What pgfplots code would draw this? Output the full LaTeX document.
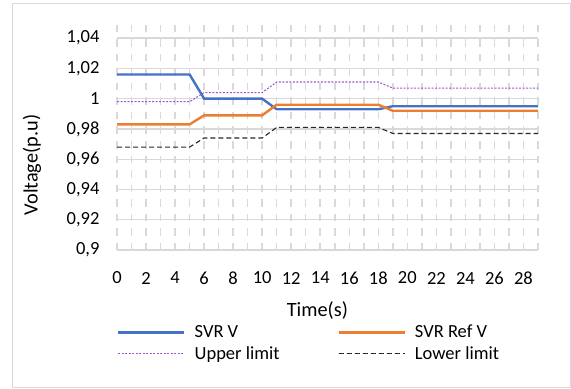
\documentclass[border=0pt]{standalone}
\usepackage{pgfplots}
\pgfplotsset{compat=1.18}
\usepackage{fontspec}
\setmainfont{Carlito}
\definecolor{svrblue}{HTML}{4472C4}
\definecolor{svrorange}{HTML}{ED7D31}
\definecolor{uppurple}{HTML}{9B59D0}
\definecolor{gridgray}{HTML}{D9D9D9}
\newcommand{\cf}{\fontsize{18.5bp}{22bp}\selectfont}
\newcommand{\tf}{\fontsize{20.3bp}{24bp}\selectfont}
\begin{document}
\begin{tikzpicture}[x=1bp,y=1bp]
\path (0,0) rectangle (571,388);
\draw[gridgray,line width=1bp] (12,1) rectangle (570,384);
\begin{axis}[
  at={(117bp,138bp)}, anchor=south west,
  scale only axis, width=421bp, height=227bp,
  xmin=0, xmax=29, ymin=0.9, ymax=1.05,
  xtick={0,2,...,28}, minor xtick={1,3,...,29},
  ytick={0.9,0.92,0.94,0.96,0.98,1,1.02,1.04},
  yticklabels={{0,9},{0,92},{0,94},{0,96},{0,98},{1},{1,02},{1,04}},
  /pgf/number format/assume math mode=true,
  xmajorgrids, xminorgrids, ymajorgrids,
  x grid style={gridgray, line width=1.5bp, dash pattern=on 7.5bp off 7bp},
  minor x grid style={gridgray, line width=1.5bp, dash pattern=on 7.5bp off 7bp},
  y grid style={gridgray, line width=1.3bp},
  axis line style={draw=none},
  major tick length=0pt, minor tick length=0pt,
  xticklabel style={font=\cf, anchor=center, yshift=-28bp},
  yticklabel style={font=\cf, anchor=east, xshift=-14bp},
  xlabel={Time(s)}, ylabel={Voltage(p.u)},
  xlabel style={font=\tf, at={(axis description cs:0.476,0)}, anchor=center, yshift=-60bp},
  ylabel style={font=\tf, at={(axis description cs:-0.2019,0.3744)}, anchor=center},
  legend columns=2,
  legend style={draw=none, fill=none, at={(axis description cs:0.454,-0.4097)}, anchor=center,
    font=\cf, row sep=7bp, nodes={inner sep=0pt},
    /tikz/every even column/.append style={column sep=58bp}},
  legend cell align=left,
  legend image code/.code={\draw[#1] (0bp,0bp) -- (66bp,0bp); \path (75bp,0bp);},
]
\addplot[svrblue, line width=2.4bp] coordinates {
(0,1.016)(1,1.016)(2,1.016)(3,1.016)(4,1.016)(5,1.016)
(6,1.0)(7,1.0)(8,1.0)(9,1.0)(10,1.0)
(11,0.993)(12,0.993)(13,0.993)(14,0.993)(15,0.993)(16,0.993)(17,0.993)(18,0.993)
(19,0.995)(20,0.995)(21,0.995)(22,0.995)(23,0.995)(24,0.995)(25,0.995)(26,0.995)(27,0.995)(28,0.995)(29,0.995)};
\addlegendentry{SVR V}
\addplot[svrorange, line width=2.4bp] coordinates {
(0,0.983)(1,0.983)(2,0.983)(3,0.983)(4,0.983)(5,0.983)
(6,0.989)(7,0.989)(8,0.989)(9,0.989)(10,0.989)
(11,0.996)(12,0.996)(13,0.996)(14,0.996)(15,0.996)(16,0.996)(17,0.996)(18,0.996)
(19,0.992)(20,0.992)(21,0.992)(22,0.992)(23,0.992)(24,0.992)(25,0.992)(26,0.992)(27,0.992)(28,0.992)(29,0.992)};
\addlegendentry{SVR Ref V}
\addplot[uppurple, line width=1.1bp, dash pattern=on 2bp off 1.5bp] coordinates {
(0,0.998)(1,0.998)(2,0.998)(3,0.998)(4,0.998)(5,0.998)
(6,1.004)(7,1.004)(8,1.004)(9,1.004)(10,1.004)
(11,1.011)(12,1.011)(13,1.011)(14,1.011)(15,1.011)(16,1.011)(17,1.011)(18,1.011)
(19,1.007)(20,1.007)(21,1.007)(22,1.007)(23,1.007)(24,1.007)(25,1.007)(26,1.007)(27,1.007)(28,1.007)(29,1.007)};
\addlegendentry{Upper limit}
\addplot[black!85, line width=1.1bp, dash pattern=on 5bp off 3bp] coordinates {
(0,0.968)(1,0.968)(2,0.968)(3,0.968)(4,0.968)(5,0.968)
(6,0.974)(7,0.974)(8,0.974)(9,0.974)(10,0.974)
(11,0.981)(12,0.981)(13,0.981)(14,0.981)(15,0.981)(16,0.981)(17,0.981)(18,0.981)
(19,0.977)(20,0.977)(21,0.977)(22,0.977)(23,0.977)(24,0.977)(25,0.977)(26,0.977)(27,0.977)(28,0.977)(29,0.977)};
\addlegendentry{Lower limit}
\end{axis}
\end{tikzpicture}
\end{document}
